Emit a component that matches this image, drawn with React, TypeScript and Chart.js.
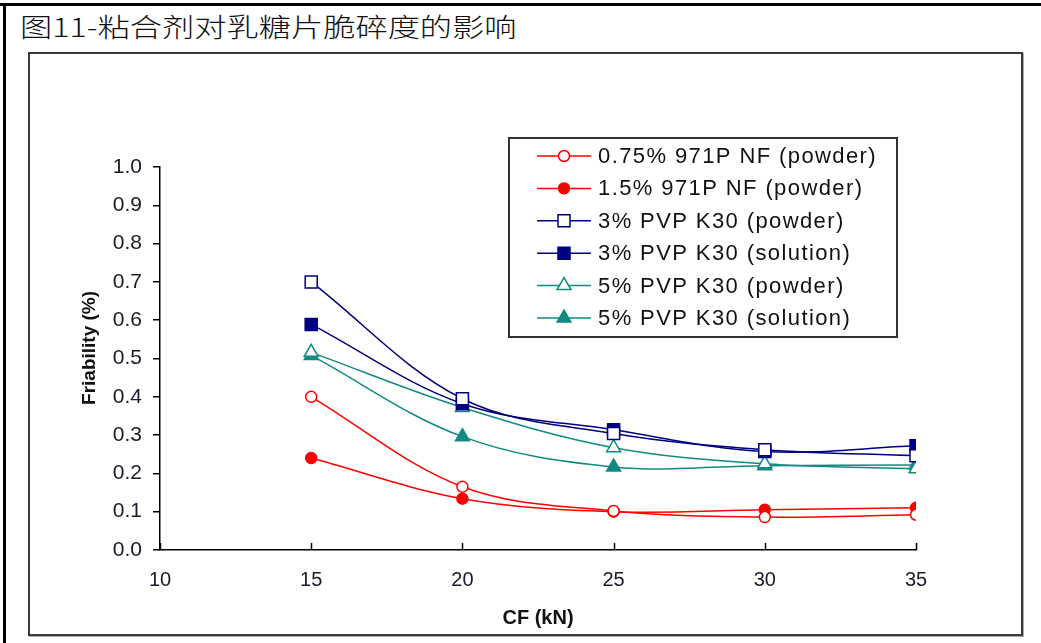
import React, { useEffect, useRef } from "react";
import { Chart, registerables } from "chart.js";

Chart.register(...registerables);

// ---- data ----
const titleText = "图11-粘合剂对乳糖片脆碎度的影响";
const xAxisTitle = "CF (kN)";
const yAxisTitle = "Friability (%)";
const forces = [15, 20, 25, 30, 35];
const seriesNames = [
  "0.75% 971P NF (powder)",
  "1.5% 971P NF (powder)",
  "3% PVP K30 (powder)",
  "3% PVP K30 (solution)",
  "5% PVP K30 (powder)",
  "5% PVP K30 (solution)",
];
const nf075Powder = [0.4, 0.165, 0.102, 0.086, 0.092];
const nf15Powder = [0.24, 0.134, 0.1, 0.105, 0.11];
const pvp3Powder = [0.7, 0.395, 0.304, 0.262, 0.246];
const pvp3Solution = [0.589, 0.382, 0.314, 0.257, 0.272];
const pvp5Powder = [0.516, 0.372, 0.267, 0.225, 0.212];
const pvp5Solution = [0.508, 0.296, 0.217, 0.22, 0.222];
const xMin = 10;
const xMax = 35;
const xStep = 5;
const yMin = 0;
const yMax = 1;
const yStep = 0.1;

const RED = "#ff0000";
const NAVY = "#000080";
const TEAL = "#128a82";

type Style = { color: string; point: string; filled: boolean; radius: number };
const styles: Style[] = [
  { color: RED, point: "circle", filled: false, radius: 5.5 },
  { color: RED, point: "circle", filled: true, radius: 5.5 },
  { color: NAVY, point: "rect", filled: false, radius: 8.5 },
  { color: NAVY, point: "rect", filled: true, radius: 8.5 },
  { color: TEAL, point: "triangle", filled: false, radius: 8 },
  { color: TEAL, point: "triangle", filled: true, radius: 8 },
];
const seriesValues = [nf075Powder, nf15Powder, pvp3Powder, pvp3Solution, pvp5Powder, pvp5Solution];

function drawMarker(ctx: CanvasRenderingContext2D, s: Style, x: number, y: number) {
  ctx.beginPath();
  const r = s.radius;
  if (s.point === "circle") {
    ctx.arc(x, y, r, 0, Math.PI * 2);
  } else if (s.point === "rect") {
    const h = Math.SQRT1_2 * r;
    ctx.rect(x - h, y - h, 2 * h, 2 * h);
  } else {
    let rad = 0;
    ctx.moveTo(x + Math.sin(rad) * r, y - Math.cos(rad) * r);
    rad += (2 * Math.PI) / 3;
    ctx.lineTo(x + Math.sin(rad) * r, y - Math.cos(rad) * r);
    rad += (2 * Math.PI) / 3;
    ctx.lineTo(x + Math.sin(rad) * r, y - Math.cos(rad) * r);
    ctx.closePath();
  }
  ctx.fillStyle = s.filled ? s.color : "#ffffff";
  ctx.fill();
  ctx.lineWidth = 1.5;
  ctx.strokeStyle = s.color;
  ctx.stroke();
}

const boxLegendPlugin = {
  id: "boxLegend",
  afterDraw(chart: any, _args: any, opts: any) {
    const ctx: CanvasRenderingContext2D = chart.ctx;
    const { left, top, right, bottom, rowGap, lineX0, lineX1, textX } = opts;
    ctx.save();
    ctx.strokeStyle = "#333333";
    ctx.lineWidth = 2;
    ctx.strokeRect(left, top, right - left, bottom - top);
    ctx.font = "22px 'Liberation Sans', Arial, sans-serif";
    (ctx as any).letterSpacing = "1.4px";
    ctx.textBaseline = "middle";
    ctx.textAlign = "left";
    chart.data.datasets.forEach((ds: any, i: number) => {
      const y = top + 18 + i * rowGap;
      const s = styles[i];
      ctx.beginPath();
      ctx.moveTo(lineX0, y);
      ctx.lineTo(lineX1, y);
      ctx.strokeStyle = s.color;
      ctx.lineWidth = 1.5;
      ctx.stroke();
      drawMarker(ctx, s, (lineX0 + lineX1) / 2, y);
      ctx.fillStyle = "#111111";
      ctx.fillText(ds.label, textX, y + 1);
    });
    ctx.restore();
  },
};

const innerTicksPlugin = {
  id: "innerTicks",
  afterDraw(chart: any) {
    const ctx: CanvasRenderingContext2D = chart.ctx;
    const xs = chart.scales.x;
    const bottom = chart.chartArea.bottom;
    ctx.save();
    ctx.strokeStyle = "#000000";
    ctx.lineWidth = 1.5;
    xs.ticks.forEach((t: any) => {
      const px = Math.round(xs.getPixelForValue(t.value)) + 0.5;
      ctx.beginPath();
      ctx.moveTo(px, bottom);
      ctx.lineTo(px, bottom - 7);
      ctx.stroke();
    });
    ctx.restore();
  },
};

function FriabilityChart() {
  const ref = useRef<HTMLCanvasElement | null>(null);
  useEffect(() => {
    if (!ref.current) return;
    const chart = new Chart(ref.current, {
      type: "line",
      data: {
        datasets: seriesNames.map((name, i) => ({
          label: name,
          data: forces.map((f, j) => ({ x: f, y: seriesValues[i][j] })),
          borderColor: styles[i].color,
          backgroundColor: styles[i].filled ? styles[i].color : "#ffffff",
          pointBackgroundColor: styles[i].filled ? styles[i].color : "#ffffff",
          pointBorderColor: styles[i].color,
          pointBorderWidth: 1.5,
          pointStyle: styles[i].point as any,
          pointRadius: styles[i].radius,
          borderWidth: 1.5,
          tension: 0.35,
          fill: false,
        })),
      },
      options: {
        responsive: false,
        animation: false,
        devicePixelRatio: 1,
        layout: { padding: { left: 78, right: 125, top: 167, bottom: 13 } },
        plugins: {
          legend: { display: false },
          tooltip: { enabled: false },
          title: { display: false },
          boxLegend: {
            left: 509,
            top: 138,
            right: 897,
            bottom: 337,
            rowGap: 32.4,
            lineX0: 537,
            lineX1: 591,
            textX: 598,
          },
        } as any,
        scales: {
          x: {
            type: "linear",
            min: xMin,
            max: xMax,
            afterFit: (s: any) => {
              s.height = 80;
            },
            ticks: {
              stepSize: xStep,
              padding: 18,
              color: "#1a1a2a",
              font: { family: "'Liberation Sans Narrow', 'Liberation Sans', Arial, sans-serif", size: 20 },
              callback: (v: any) => String(v),
            },
            grid: { display: true, drawOnChartArea: false, drawTicks: false },
            border: { display: true, color: "#000000", width: 1.5 },
            title: {
              display: true,
              text: xAxisTitle,
              color: "#111111",
              padding: { top: 0, bottom: 0 },
              font: { family: "'Liberation Sans', Arial, sans-serif", size: 20, weight: "bold" },
            },
          },
          y: {
            type: "linear",
            min: yMin,
            max: yMax,
            afterFit: (s: any) => {
              s.width = 82;
            },
            ticks: {
              stepSize: yStep,
              padding: 11,
              color: "#1a1a2a",
              font: { family: "'Liberation Sans', Arial, sans-serif", size: 21 },
              callback: (v: any) => Number(v).toFixed(1),
            },
            grid: { display: true, drawOnChartArea: false, drawTicks: true, tickLength: 7, color: "#000000", lineWidth: 1.5 },
            border: { display: true, color: "#000000", width: 1.5 },
            title: {
              display: true,
              text: "    " + yAxisTitle,
              color: "#111111",
              padding: { top: 0, bottom: 0 },
              font: { family: "'Liberation Sans', Arial, sans-serif", size: 19, weight: "bold" },
            },
          },
        },
      },
      plugins: [boxLegendPlugin, innerTicksPlugin],
    });
    return () => chart.destroy();
  }, []);
  return (
    <canvas
      ref={ref}
      width={1041}
      height={643}
      style={{ position: "absolute", left: 0, top: 0, width: 1041, height: 643 }}
    />
  );
}

export default function App() {
  return (
    <div
      style={{
        position: "absolute",
        left: 0,
        top: 0,
        width: 1041,
        height: 643,
        background: "#ffffff",
        overflow: "hidden",
      }}
    >
      <div style={{ position: "absolute", left: 0, top: 3, width: 1041, height: 3, background: "#000" }} />
      <div style={{ position: "absolute", left: 3, top: 3, width: 3, height: 640, background: "#000" }} />
      <div
        style={{
          position: "absolute",
          left: 20,
          top: 12,
          fontFamily: "'Noto Sans CJK SC', sans-serif",
          fontSize: 26,
          fontWeight: 300,
          lineHeight: "28px",
          color: "#111",
          whiteSpace: "nowrap",
          transform: "scaleX(1.24)",
          transformOrigin: "left top",
        }}
      >
        {titleText}
      </div>
      <div
        style={{
          position: "absolute",
          left: 28,
          top: 52,
          width: 991,
          height: 580,
          border: "2px solid #3a3a3a",
          boxShadow: "1px 1px 0 #aaa",
        }}
      />
      <FriabilityChart />
    </div>
  );
}
